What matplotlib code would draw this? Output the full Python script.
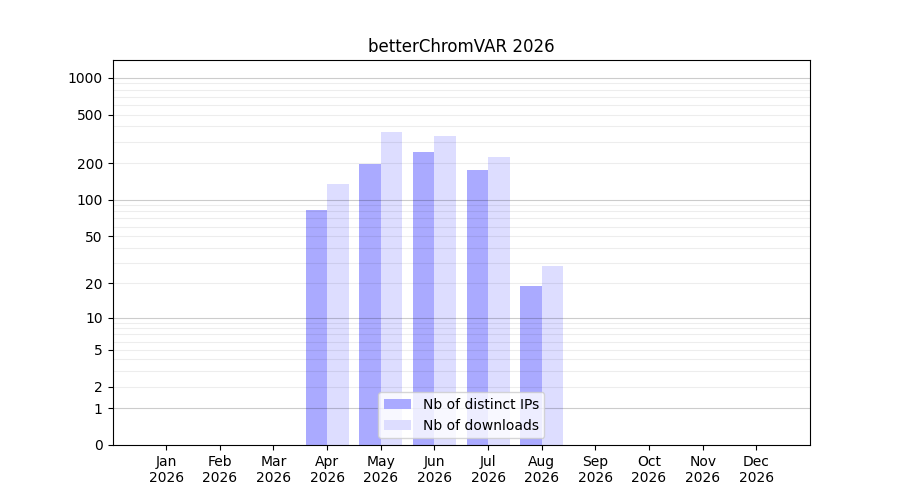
import numpy as np
import matplotlib
matplotlib.use("Agg")
import matplotlib.pyplot as plt

# Monthly download stats
months = ['Jan', 'Feb', 'Mar', 'Apr', 'May', 'Jun', 'Jul', 'Aug', 'Sep', 'Oct', 'Nov', 'Dec']
year = 2026
distinct_ips = [0, 0, 0, 82, 198, 248, 176, 19, 0, 0, 0, 0]
downloads = [0, 0, 0, 136, 362, 335, 225, 28, 0, 0, 0, 0]

ytick_values = [0, 1, 2, 5, 10, 20, 50, 100, 200, 500, 1000]


def fwd(y):
    return np.log10(1 + np.clip(y, 0, None))


def inv(y):
    return 10 ** y - 1


fig, ax = plt.subplots(figsize=(9, 5), dpi=100)

x = np.arange(1, len(months) + 1)
w = 0.4
ax.bar(x - w, distinct_ips, width=w, align='edge', color='#aaaaff', label='Nb of distinct IPs', zorder=1)
ax.bar(x, downloads, width=w, align='edge', color='#ddddff', label='Nb of downloads', zorder=1)

ax.set_yscale('function', functions=(fwd, inv))
ax.set_ylim(0, 1400)
ax.set_xlim(0, 13)

# grid: darker lines at decades, light lines at 2..9 x decade (drawn over the bars)
for d in [1, 10, 100, 1000]:
    ax.axhline(d, color='black', alpha=0.2, linewidth=0.8, zorder=2)
    for k in range(2, 10):
        if k * d < 1400:
            ax.axhline(k * d, color='black', alpha=0.07, linewidth=0.8, zorder=2)

ax.set_yticks(ytick_values)
ax.set_yticklabels([str(v) for v in ytick_values])
ax.yaxis.set_minor_locator(matplotlib.ticker.NullLocator())
ax.set_xticks(x)
ax.set_xticklabels([f'{m}\n{year}' for m in months])

ax.set_title(f'betterChromVAR {year}')
ax.legend(loc='lower center')

plt.savefig('out.png')
